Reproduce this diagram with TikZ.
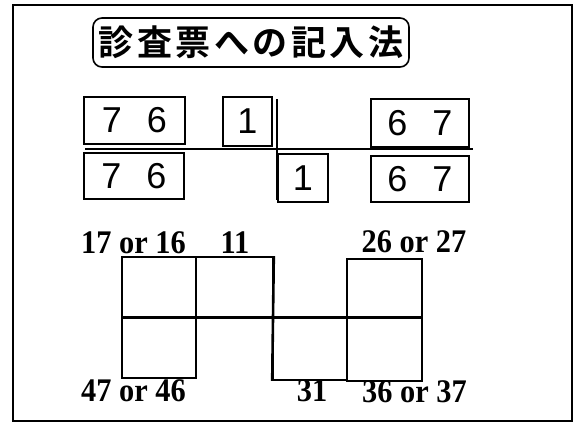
\documentclass[tikz,border=0pt]{standalone}
\usepackage{fontspec}
\setmainfont{Liberation Serif}
\newfontfamily\jpfont{Noto Sans CJK JP}[BoldFont={* Bold}]
\newfontfamily\digitfont{Liberation Sans}
\newfontfamily\lblfont{Liberation Serif Bold}[FakeStretch=0.92]
\begin{document}
\begin{tikzpicture}[x=1pt,y=-1pt,
  titlebox/.style={draw,line width=1.6pt,rounded corners=9pt,inner sep=0pt,
    minimum width=316pt,minimum height=49pt,font=\jpfont\bfseries\fontsize{35}{35}\selectfont},
  numbox/.style={draw,line width=1.8pt,inner sep=0pt,font=\digitfont\fontsize{36}{36}\selectfont},
  cell/.style={draw,line width=1.6pt,inner sep=0pt},
  lbl/.style={anchor=base,inner sep=0pt,font=\lblfont\fontsize{33}{33}\selectfont},
  divider/.style={line width=2.6pt}]
\useasboundingbox (0,0) rectangle (574,426);
\draw[line width=2pt] (13,5) rectangle (572,421);
% title
\node[titlebox] (title) at (251,42.5) {診\hspace{3.5pt}査\hspace{3.5pt}票\hspace{3.5pt}へ\hspace{3.5pt}の\hspace{3.5pt}記\hspace{3.5pt}入\hspace{3.5pt}法};
% number boxes
\node[numbox,minimum width=101pt,minimum height=47pt] (a1) at (134.5,120.5) {7\hspace{25pt}6};
\node[numbox,minimum width=49pt,minimum height=49pt] (b1) at (247.5,121.5) {1};
\node[numbox,minimum width=98pt,minimum height=48pt] (c1) at (420,123) {6\hspace{25pt}7};
\node[numbox,minimum width=100pt,minimum height=46pt] (a2) at (134,176) {7\hspace{25pt}6};
\node[numbox,minimum width=50pt,minimum height=48pt] (b2) at (303,178) {1};
\node[numbox,minimum width=98pt,minimum height=46pt] (c2) at (420,179) {6\hspace{25pt}7};
\coordinate (hl) at (85,149);
\coordinate (hr) at (473,149);
\coordinate (vt) at (277,99);
\coordinate (vb) at (277,200);
\draw[divider] (hl) -- (hr);
\draw[divider] (vt) -- (vb);
% tooth chart
\node[cell,minimum width=74pt,minimum height=61pt] (c11) at (159,287.5) {};
\node[cell,minimum width=77pt,minimum height=61pt] (c12) at (234.5,287.5) {};
\node[cell,minimum width=74pt,minimum height=60pt] (c21) at (159,348) {};
\node[cell,minimum width=74pt,minimum height=62pt] (c31) at (310,349) {};
\node[cell,minimum width=75pt,minimum height=59pt] (c41) at (384.5,288.5) {};
\node[cell,minimum width=75pt,minimum height=63pt] (c42) at (384.5,349.5) {};
\draw[divider] (c21.north west) -- (c42.north east);
\draw[divider] (c12.north east) -- (c31.south west);
% labels
\node[lbl] (l17) at (133.5,253) {17 or 16};
\node[lbl] (l11) at (235,253) {11};
\node[lbl] (l26) at (414,252) {26 or 27};
\node[lbl] (l47) at (133.5,401) {47 or 46};
\node[lbl] (l31) at (312,401) {31};
\node[lbl] (l36) at (414.5,402) {36 or 37};
\end{tikzpicture}
\end{document}
